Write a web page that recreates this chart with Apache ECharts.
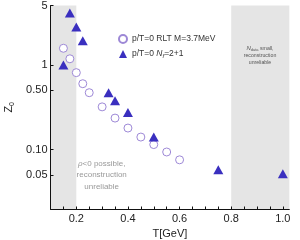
<!DOCTYPE html>
<html><head><meta charset="utf-8">
<script src="https://cdn.jsdelivr.net/npm/echarts@6/dist/echarts.min.js"></script>
<style>html,body{margin:0;padding:0;background:#fff}#c{width:300px;height:240px}</style>
</head><body><div id="c"></div>
<script>
// Data
const rltT = [0.15, 0.175, 0.2, 0.225, 0.25, 0.30, 0.35, 0.40, 0.45, 0.50, 0.55, 0.60];
const rltZ = [1.57, 1.18, 0.81, 0.60, 0.47, 0.32, 0.236, 0.18, 0.141, 0.115, 0.094, 0.076];
const nfT = [0.15, 0.175, 0.2, 0.225, 0.325, 0.35, 0.40, 0.50, 0.75, 1.0];
const nfZ = [1.0, 4.1, 2.8, 1.93, 0.47, 0.377, 0.275, 0.141, 0.058, 0.052];
const yTickValues = [0.05, 0.1, 0.5, 1, 5];
const yTickLabels = ['0.05', '0.10', '0.50', '1', '5'];
const xTickValues = [0.1,0.15,0.2,0.25,0.3,0.35,0.4,0.45,0.5,0.55,0.6,0.65,0.7,0.75,0.8,0.85,0.9,0.95,1.0];
const xLabelValues = [0.2, 0.4, 0.6, 0.8, 1.0];
const bands = [[0.1, 0.2], [0.8, 1.025]];
const seriesNames = ['p/T=0 RLT M=3.7MeV', 'p/T=0 Nf=2+1'];

const chart = echarts.init(document.getElementById('c'), null, {renderer: 'canvas'});
const font = 'Liberation Sans, Arial, sans-serif';
chart.setOption({
  animation: false,
  grid: {left: 50.5, right: 10.7, top: 5.6, bottom: 31, containLabel: false, outerBoundsMode: 'none'},
  legend: {
    orient: 'vertical', left: 118, top: 34, padding: 0, itemGap: 5.5, itemWidth: 8, itemHeight: 8,
    data: seriesNames,
    textStyle: {fontFamily: font, fontSize: 8.5, color: '#333',
      rich: {i: {fontStyle: 'italic', fontSize: 8.5, fontFamily: font, color: '#333'},
             s: {fontStyle: 'italic', fontSize: 6, fontFamily: font, color: '#333', verticalAlign: 'bottom', padding: [4,0,0,0]},
             n: {fontSize: 8.5, fontFamily: font, color: '#333'}}},
    formatter: function (name) {
      if (name === seriesNames[1]) return '{n|p/T=0 }{i|N}{s|f}{n|=2+1}';
      return name;
    }
  },
  xAxis: {
    type: 'value', min: 0.1, max: 1.025, z: 10,
    name: 'T[GeV]', nameLocation: 'middle', nameGap: 17,
    nameTextStyle: {fontFamily: font, fontSize: 11, color: '#222'},
    axisLine: {show: true, onZero: false, lineStyle: {color: '#111', width: 1}},
    axisTick: {show: true, inside: true, length: 2.5, customValues: xTickValues, lineStyle: {color: '#111'}},
    axisLabel: {customValues: xLabelValues, fontFamily: font, fontSize: 11, color: '#222', margin: 4,
      formatter: v => v.toFixed(1)},
    splitLine: {show: false}
  },
  yAxis: {
    type: 'log', logBase: 10, min: 0.02, max: 5, z: 10,
    name: 'Z{s|0}', nameLocation: 'middle', nameGap: 35, nameRotate: 90,
    nameTextStyle: {fontFamily: font, fontSize: 11, color: '#222',
      rich: {s: {fontSize: 7, fontFamily: font, color: '#222', verticalAlign: 'bottom', padding: [5,0,0,0]}}},
    axisLine: {show: true, onZero: false, lineStyle: {color: '#111', width: 1}},
    axisTick: {show: true, inside: true, length: 3, customValues: yTickValues, lineStyle: {color: '#111'}},
    axisLabel: {customValues: yTickValues, fontFamily: font, fontSize: 11, color: '#222', margin: 3,
      formatter: v => { const i = yTickValues.findIndex(t => Math.abs(t - v) < 1e-9); return i >= 0 ? yTickLabels[i] : ''; }},
    splitLine: {show: false}, minorTick: {show: false}
  },
  series: [
    {type: 'scatter', name: '_bands', data: [], silent: true, z: 0,
      markArea: {silent: true, z: 0, itemStyle: {color: '#e5e5e5'},
        data: bands.map(b => [{xAxis: b[0], yAxis: 0.02}, {xAxis: b[1], yAxis: 5}])}},
    {type: 'scatter', name: seriesNames[0], symbol: 'circle', symbolSize: 8,
      itemStyle: {color: '#fff', borderColor: '#9d88d6', borderWidth: 1, opacity: 1},
      data: rltT.map((t, i) => [t, rltZ[i]]), z: 3},
    {type: 'scatter', name: seriesNames[1], symbol: 'triangle', symbolSize: [10, 9],
      itemStyle: {color: '#3a2fbf', opacity: 1},
      data: nfT.map((t, i) => [t, nfZ[i]]), z: 4}
  ],
  graphic: [
    {type: 'text', x: 260, y: 45, z: 20, style: {
      text: '{i|N}{s|data}{n| small,}\n{n|reconstruction}\n{n|unreliable}',
      align: 'center', verticalAlign: 'top', lineHeight: 7,
      rich: {i: {fontStyle: 'italic', fontSize: 6, fontFamily: font, fill: '#555', lineHeight: 7},
             s: {fontSize: 4, fontFamily: font, fill: '#555', verticalAlign: 'bottom', lineHeight: 7},
             n: {fontSize: 5.2, fontFamily: font, fill: '#555', lineHeight: 7}}}},
    {type: 'text', x: 101.7, y: 158, z: 20, style: {
      text: '{i|ρ}{n|<0 possible,}\n{n|reconstruction}\n{n|unreliable}',
      align: 'center', verticalAlign: 'top', lineHeight: 11.5,
      rich: {i: {fontStyle: 'italic', fontSize: 8, fontFamily: font, fill: '#999', lineHeight: 11.5},
             n: {fontSize: 8, fontFamily: font, fill: '#999', lineHeight: 11.5}}}}
  ]
});
</script></body></html>
